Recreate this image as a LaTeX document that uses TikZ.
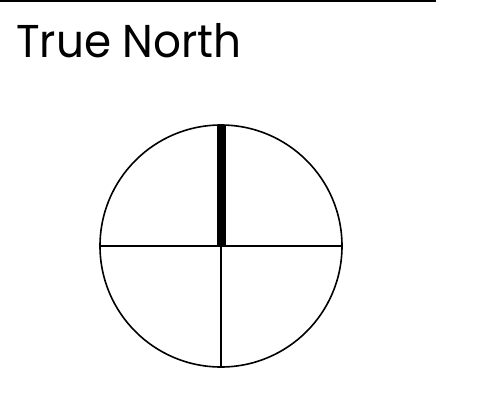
\documentclass[tikz,border=0pt]{standalone}
\usepackage{fontspec}
\setmainfont{Poppins}
\begin{document}
\begin{tikzpicture}[x=1pt, y=-1pt, line join=round, font=\fontsize{46}{50}\selectfont]
	\useasboundingbox (0,0) rectangle (484,404);
	% Thanh ngang trên cùng
	\coordinate (L) at (0,1.2);
	\coordinate (R) at (436,1.2);
	\draw[line width=2.2pt] (L) -- (R);
	
	% Tiêu đề
	\node[anchor=base west, inner sep=0pt, xscale=0.95] (title) at (16,57) {True North};
	
	% Vòng tròn
	\node[draw, circle, line width=1.6pt, minimum size=242pt, inner sep=0pt, outer sep=0pt] (dial) at (221,246) {};
	
	% Các vạch chia
	\draw[line width=1.6pt] (dial.west) -- (dial.east);
	\draw[line width=1.6pt] (dial.center) -- (dial.south);
	\draw[line width=9pt] (dial.north) -- (dial.center);
\end{tikzpicture}
\end{document}
